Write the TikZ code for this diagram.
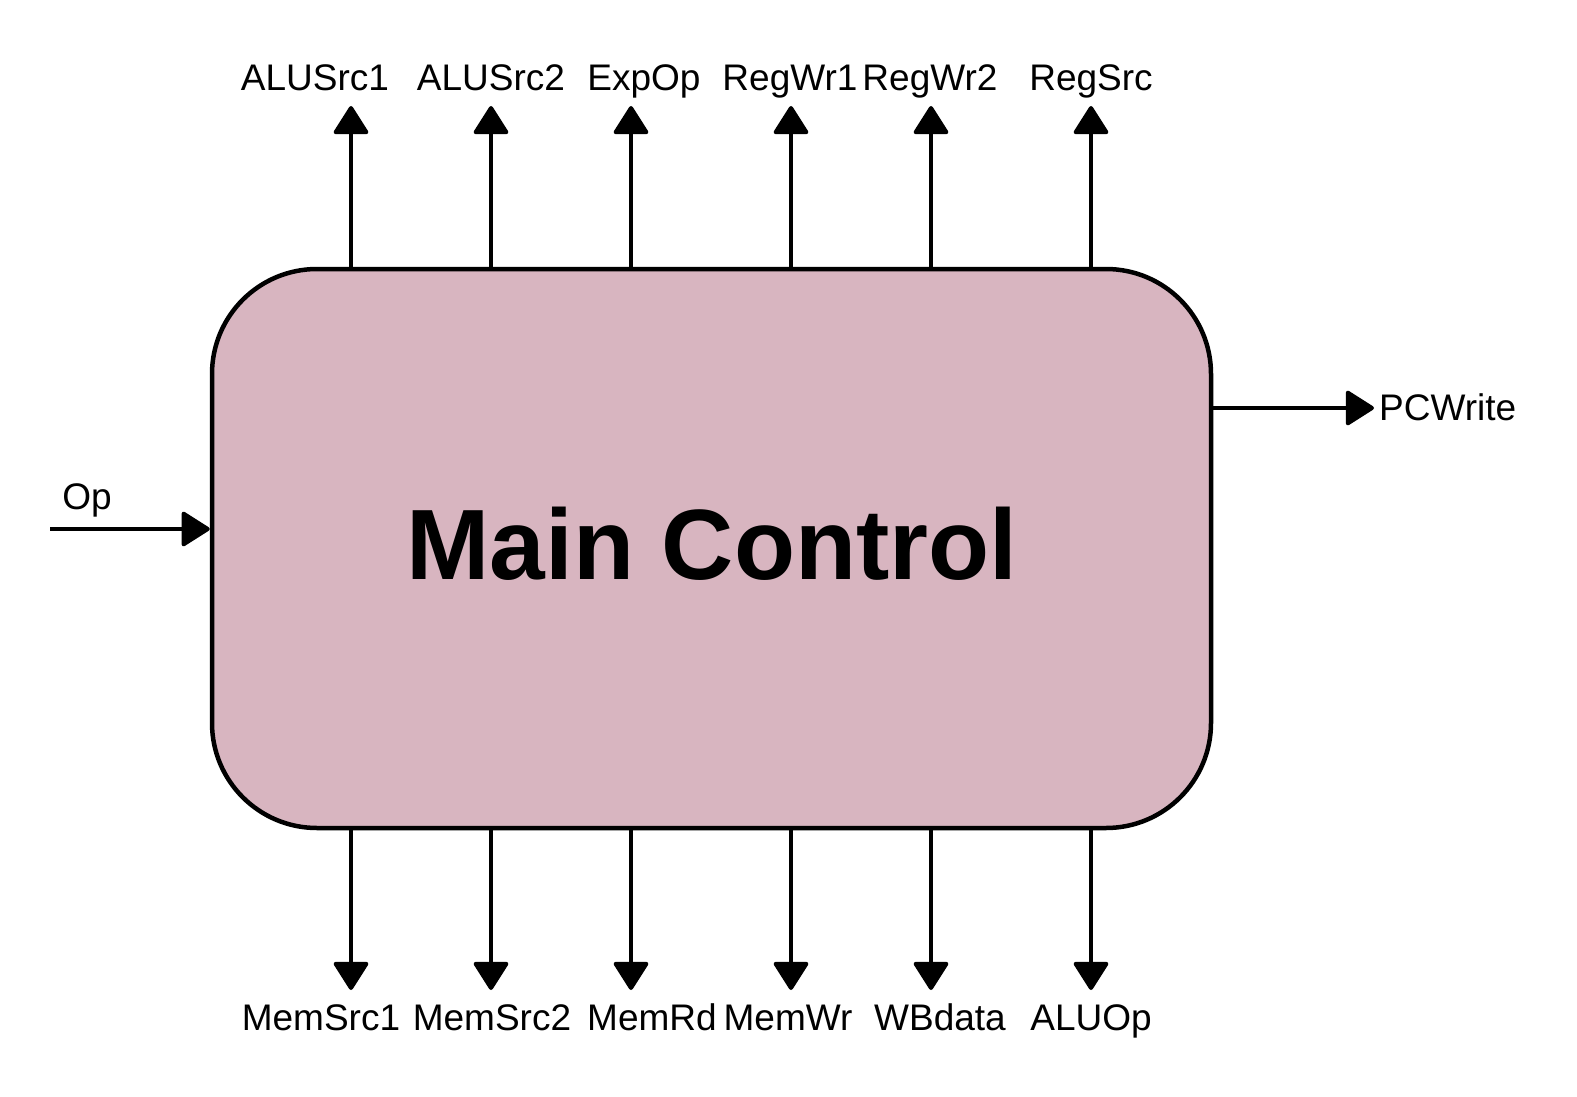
\documentclass[tikz,border=0pt]{standalone}
\usepackage{fontspec}
\setmainfont{Liberation Sans}
\usetikzlibrary{arrows.meta}
\definecolor{boxfill}{RGB}{216,181,192}
\tikzset{
  sig/.style={line width=4pt, -{Triangle[length=30pt,width=37pt,round]}},
  lbl/.style={inner sep=0pt, anchor=base, font=\fontsize{37}{40}\selectfont},
  ctrlbox/.style={draw, line width=4.5pt, fill=boxfill, rounded corners=105pt,
     minimum width=999pt, minimum height=559pt, inner sep=0pt}
}
\begin{document}
\begin{tikzpicture}[x=1pt,y=-1pt]
\useasboundingbox (0,0) rectangle (1577,1097);
\node[ctrlbox] (box) at (711.5,548.5) {};
\node[font=\fontsize{100}{110}\selectfont\bfseries, inner sep=0pt, anchor=base] (title) at (712,579) {Main Control};
% top outputs
\coordinate (t1) at (351,106);
\coordinate (t2) at (491,106);
\coordinate (t3) at (631,106);
\coordinate (t4) at (791,106);
\coordinate (t5) at (931,106);
\coordinate (t6) at (1091,106);
\foreach \i in {1,...,6} { \draw[sig] (box.north -| t\i) -- (t\i); }
\node[lbl] (lt1) at (315,91) {ALUSrc1};
\node[lbl] (lt2) at (491,91) {ALUSrc2};
\node[lbl] (lt3) at (644,91) {ExpOp};
\node[lbl] (lt4) at (790,91) {RegWr1};
\node[lbl] (lt5) at (930,91) {RegWr2};
\node[lbl] (lt6) at (1091,91) {RegSrc};
% bottom outputs
\coordinate (b1) at (351,990);
\coordinate (b2) at (491,990);
\coordinate (b3) at (631,990);
\coordinate (b4) at (791,990);
\coordinate (b5) at (931,990);
\coordinate (b6) at (1091,990);
\foreach \i in {1,...,6} { \draw[sig] (box.south -| b\i) -- (b\i); }
\node[lbl] (lb1) at (321,1030) {MemSrc1};
\node[lbl] (lb2) at (492,1030) {MemSrc2};
\node[lbl] (lb3) at (652,1030) {MemRd};
\node[lbl] (lb4) at (788,1030) {MemWr};
\node[lbl] (lb5) at (940,1030) {WBdata};
\node[lbl] (lb6) at (1091,1030) {ALUOp};
% PCWrite
\coordinate (pc) at (1374,408);
\draw[sig] (box.east |- pc) -- (pc);
\node[lbl, anchor=base west] (lpc) at (1379,420) {PCWrite};
% Op
\coordinate (opin) at (50,529);
\draw[sig] (opin) -- (box.west |- opin);
\node[lbl] (lop) at (87,509) {Op};
\end{tikzpicture}
\end{document}
